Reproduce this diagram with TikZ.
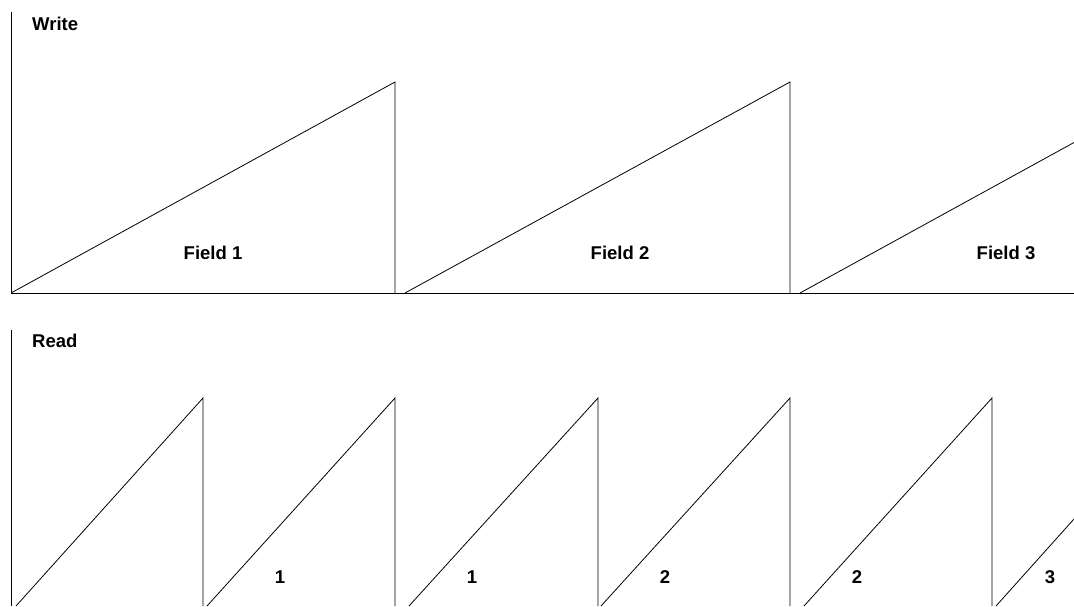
\documentclass[tikz,border=0pt]{standalone}
\usepackage{fontspec}
\setmainfont{Liberation Sans}
\tikzset{
  wave/.style={draw=black, line width=0.8pt, line join=miter},
  axis/.style={draw=black, line width=0.8pt},
  lbl/.style={font=\fontsize{18.5}{20}\selectfont\bfseries, inner sep=0pt, anchor=center}
}
\begin{document}
\begin{tikzpicture}[x=1pt,y=-1pt]
\useasboundingbox (0,0) rectangle (1074,606);
% Write panel
\draw[axis] (11,12) -- (11,293) -- (1074,293);
\draw[wave] (11,293) -- (395,82) -- (395,293);
\draw[wave] (405,293) -- (790,82) -- (790,293);
\draw[wave] (800,293) -- (1074,142.5);
\node[lbl, anchor=west] (write) at (32,24) {Write};
\node[lbl] (f1) at (213,253) {Field 1};
\node[lbl] (f2) at (620,253) {Field 2};
\node[lbl] (f3) at (1006,253) {Field 3};
% Read panel
\draw[axis] (11,330) -- (11,606);
\draw[wave] (16,606) -- (203,398) -- (203,606);
\draw[wave] (207,606) -- (395,398) -- (395,606);
\draw[wave] (409,606) -- (598,398) -- (598,606);
\draw[wave] (601,606) -- (790,398) -- (790,606);
\draw[wave] (804,606) -- (992,398) -- (992,606);
\draw[wave] (996,606) -- (1074,519);
\node[lbl, anchor=west] (read) at (32,341) {Read};
\node[lbl] (r1) at (280,577) {1};
\node[lbl] (r2) at (472,577) {1};
\node[lbl] (r3) at (665,577) {2};
\node[lbl] (r4) at (857,577) {2};
\node[lbl] (r5) at (1050,577) {3};
\end{tikzpicture}
\end{document}
